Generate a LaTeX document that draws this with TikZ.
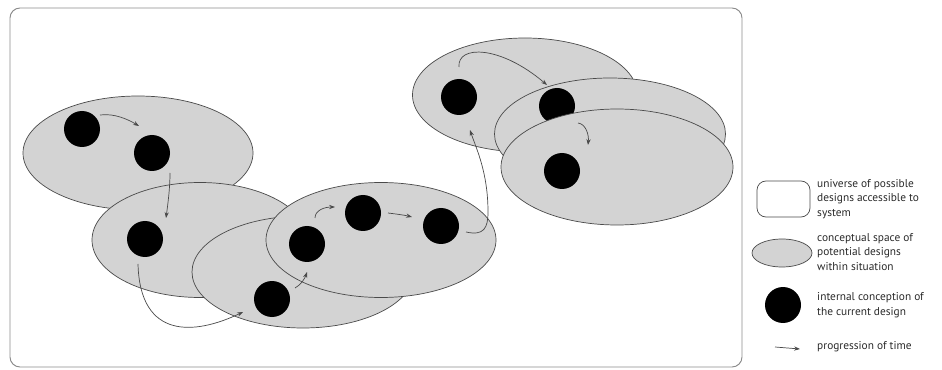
\documentclass[tikz,border=0pt]{standalone}
\usepackage{fontspec}
\setmainfont{PT Sans}
\usetikzlibrary{shapes.geometric,arrows.meta}
\definecolor{ellfill}{HTML}{D3D3D3}
\definecolor{edgec}{HTML}{4A4A4A}
\definecolor{framec}{HTML}{8A8A8A}
\definecolor{txtc}{HTML}{2A2A2A}
\def\pxu{0.03cm}
\begin{document}
\begin{tikzpicture}[x=0.03cm,y=-0.03cm,
  space/.style={ellipse, draw=edgec, fill=ellfill, line width=0.6pt, inner sep=0pt},
  dot/.style={circle, fill=black, minimum size=36*\pxu, inner sep=0pt},
  arr/.style={draw=edgec, line width=0.6pt, -{Stealth[length=5pt,width=3.6pt]}},
  legtext/.style={anchor=west, align=left, text=txtc, inner sep=0pt,
                  font=\fontsize{9.7}{12.6}\selectfont}]
\useasboundingbox (0,0) rectangle (942,370);
% universe frame
\draw[framec, line width=0.8pt, rounded corners=10*\pxu] (10,8) rectangle (742,367);

% first cluster
\node[space, minimum width=230*\pxu, minimum height=114*\pxu] (e1) at (138,153) {};
\node[dot] (d1) at (82,129) {};
\node[dot] (d2) at (152,153) {};
\node[space, minimum width=216*\pxu, minimum height=115*\pxu] (e2) at (200,240) {};
\node[dot] (d3) at (145,239) {};
\node[space, minimum width=222*\pxu, minimum height=112*\pxu] (e3) at (303,272) {};
\node[dot] (d4) at (272,299) {};
\node[space, minimum width=230*\pxu, minimum height=115*\pxu] (e4) at (381,240) {};
\node[dot] (d5) at (307,244) {};
\node[dot] (d6) at (363,213) {};
\node[dot] (d7) at (441,226) {};

% second cluster
\node[space, minimum width=225*\pxu, minimum height=114*\pxu] (e5) at (525,95) {};
\node[dot] (d8) at (459,97) {};
\node[space, minimum width=231*\pxu, minimum height=112*\pxu] (e6) at (610,134) {};
\node[dot] (d9) at (557,106) {};
\node[space, minimum width=232*\pxu, minimum height=116*\pxu] (e7) at (617,167) {};
\node[dot] (d10) at (562,171) {};

% progression arrows
\draw[arr] ([shift={(18,-14)}]d1.center) .. controls +(15,-2) and +(-10,-6) .. ([shift={(-13,-27)}]d2.center);
\draw[arr] ([shift={(18,20)}]d2.center) .. controls +(0,15) and +(2,-15) .. ([shift={(21,-21)}]d3.center);
\draw[arr] ([shift={(-7,25)}]d3.center) .. controls +(2,76) and +(-48,23) .. ([shift={(-29,13)}]d4.center);
\draw[arr] ([shift={(23,-11)}]d4.center) .. controls +(6,-3) and +(-2,6) .. ([shift={(0,28)}]d5.center);
\draw[arr] ([shift={(8,-26)}]d5.center) .. controls +(0,-8) and +(-10,0) .. ([shift={(-28,-6)}]d6.center);
\draw[arr] ([shift={(25,0)}]d6.center) .. controls +(8,1) and +(-8,-2) .. ([shift={(-29,-9)}]d7.center);
\draw[arr] ([shift={(25,6)}]d7.center) .. controls +(18,4) and +(0,16) .. ([shift={(47,-14)}]d7.center)
   .. controls +(0,-40) and +(6,18) .. ([shift={(11,33)}]d8.center);
\draw[arr] ([shift={(0,-30)}]d8.center) .. controls +(-2,-22) and +(-47,-40) .. ([shift={(-10,-21)}]d9.center);
\draw[arr] ([shift={(21,17)}]d9.center) .. controls +(8,1) and +(1,-10) .. ([shift={(26,-26)}]d10.center);

% legend
\node[draw=edgec, fill=white, line width=0.6pt, rounded corners=9*\pxu,
      minimum width=53*\pxu, minimum height=36*\pxu, inner sep=0pt] (lu) at (783.5,199) {};
\node[legtext] (tu) at (817,199) {universe of possible\\designs accessible to\\system};
\node[space, minimum width=60*\pxu, minimum height=28*\pxu] (ls) at (782,253) {};
\node[legtext] (ts) at (817,252) {conceptual space of\\potential designs\\within situation};
\node[dot] (ld) at (783,305) {};
\node[legtext] (td) at (817,305) {internal conception of\\the current design};
\coordinate (la) at (775,347);
\coordinate (lb) at (800,349);
\draw[arr] (la) -- (lb);
\node[legtext] (tp) at (817,347) {progression of time};
\end{tikzpicture}
\end{document}
